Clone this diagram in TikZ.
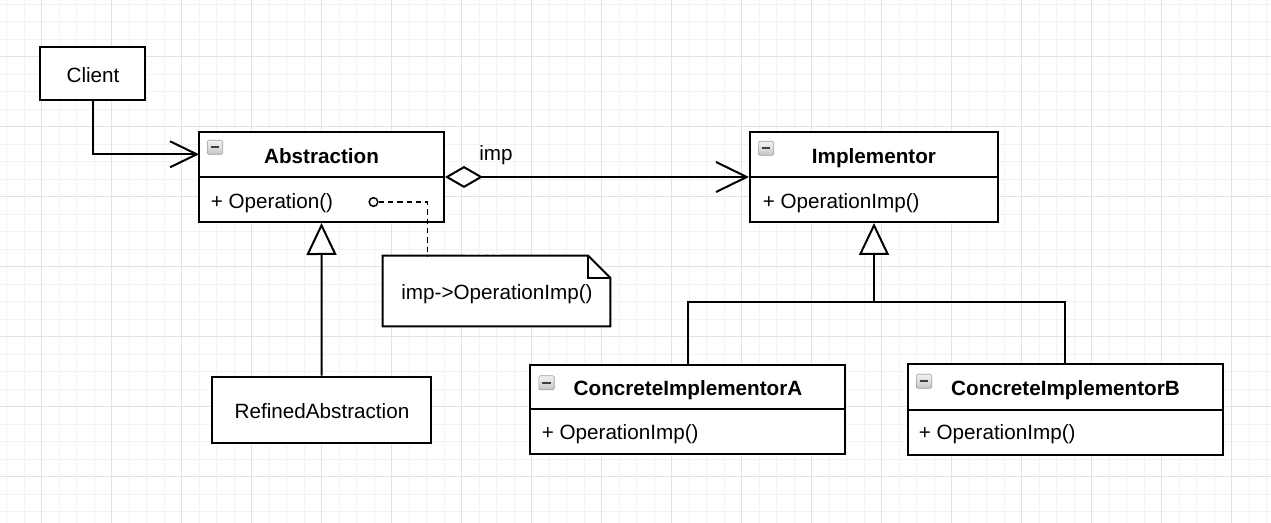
\documentclass[tikz,border=0pt]{standalone}
\usepackage{fontspec}
\setmainfont{Liberation Sans}
\usetikzlibrary{fit,arrows.meta}
\definecolor{gridminor}{HTML}{F3F3F3}
\definecolor{gridmajor}{HTML}{E2E2E2}
\tikzset{
  lw/.style={line width=1.5pt},
  box/.style={draw, lw, fill=white, inner sep=0pt},
  ttl/.style={font=\fontsize{15.5}{18}\selectfont\bfseries, inner sep=0pt, anchor=base},
  txt/.style={font=\fontsize{15.5}{18}\selectfont, inner sep=0pt, anchor=base},
  optxt/.style={font=\fontsize{15.5}{18}\selectfont, inner sep=0pt, anchor=base west},
  icon/.style={draw=gray!75, line width=0.5pt, rounded corners=1pt, minimum width=11.5pt, minimum height=10.5pt,
    inner sep=0pt, anchor=north west, top color=gray!10, bottom color=gray!45,
    path picture={\draw[line width=1.3pt, black!75] ([xshift=-3.2pt]path picture bounding box.center) -- ([xshift=3.2pt]path picture bounding box.center);}},
  barb/.style={-{Straight Barb[length=20pt,width=19.5pt,line width=1.5pt]}},
  inherit/.style={{Triangle[open,fill=white,length=24pt,width=22.5pt,line width=1.5pt]}-},
  aggrbarb/.style={{Diamond[open,fill=white,length=28.5pt,width=16.5pt,line width=1.5pt]}-{Straight Barb[length=23pt,width=22.5pt,line width=1.5pt]}},
  notedash/.style={line width=1.1pt, dash pattern=on 4pt off 3pt},
}
\begin{document}
\begin{tikzpicture}[x=0.75pt,y=-0.75pt]
\useasboundingbox (0,0) rectangle (1271,523);
\fill[white] (0,0) rectangle (1271,523);
% grid
\foreach \i in {0,...,72} \draw[gridminor, line width=0.6pt] ({6.7+17.5*\i},0) -- ({6.7+17.5*\i},523);
\foreach \j in {0,...,29} \draw[gridminor, line width=0.6pt] (0,{4.2+17.5*\j}) -- (1271,{4.2+17.5*\j});
\foreach \i in {0,...,17} \draw[gridmajor, line width=0.75pt] ({41.7+70*\i},0) -- ({41.7+70*\i},523);
\foreach \j in {0,...,6} \draw[gridmajor, line width=0.75pt] (0,{56.7+70*\j}) -- (1271,{56.7+70*\j});

% Client
\node[box, fit={(40,47.5) (145,100)}] (client) {};
\node[txt] (clienttxt) at (93,82.3) {Client};

% Abstraction
\node[box, fit={(199,132) (444,222)}] (abs) {};
\draw[lw] (199,177) -- (444,177);
\node[icon] (absicon) at (207,140) {};
\node[ttl] (abstitle) at (321.5,163.3) {Abstraction};
\node[optxt] (absop) at (210.5,208.3) {+ Operation()};

% Implementor
\node[box, fit={(750,132) (998,222)}] (impl) {};
\draw[lw] (750,177) -- (998,177);
\node[icon] (implicon) at (758,141) {};
\node[ttl] (impltitle) at (874,163.3) {Implementor};
\node[optxt] (implop) at (762.5,208.3) {+ OperationImp()};

% ConcreteImplementorA
\node[box, fit={(530,365) (845,454.5)}] (cia) {};
\draw[lw] (530,409.5) -- (845,409.5);
\node[icon] (ciaicon) at (538.5,375.5) {};
\node[ttl] (ciatitle) at (688,395.7) {ConcreteImplementorA};
\node[optxt] (ciaop) at (541.5,440) {+ OperationImp()};

% ConcreteImplementorB
\node[box, fit={(907.5,364.5) (1223,455)}] (cib) {};
\draw[lw] (907.5,410) -- (1223,410);
\node[icon] (cibicon) at (916,374) {};
\node[ttl] (cibtitle) at (1065.5,395.7) {ConcreteImplementorB};
\node[optxt] (cibop) at (918.5,440) {+ OperationImp()};

% RefinedAbstraction
\node[box, fit={(212.3,376.7) (431,443.3)}] (ref) {};
\node[txt] (reftxt) at (322,418.3) {RefinedAbstraction};

% Note
\node[inner sep=0pt, fit={(383,256) (610,326)}] (note) {};
\draw[lw, fill=white] (note.north west) -- ([xshift=-16.5pt]note.north east) -- ([yshift=-16.5pt]note.north east)
  -- (note.south east) -- (note.south west) -- cycle;
\draw[lw] ([xshift=-16.5pt]note.north east) -- ++(0,-16.5pt) -- ([yshift=-16.5pt]note.north east);
\node[txt] (notetxt) at (497,299.3) {imp->OperationImp()};
\draw[gray!45, line width=1pt, dash pattern=on 3.5pt off 2.2pt] (465,254.5) -- (502,254.5);

% note connector
\node[circle, draw, line width=1.1pt, fill=white, minimum size=6.5pt, inner sep=0pt] (dot) at (373.5,202) {};
\coordinate (notein) at (427.3,256);
\draw[notedash] (dot.east) -| (notein);

% connectors
\coordinate (absin) at (199,154.3);
\draw[lw, barb] (client.south) |- (absin);
\draw[lw, aggrbarb] (abs.east) -- (impl.west);
\node[txt] (implbl) at (496,160.7) {imp};
\draw[lw, inherit] (abs.south) -- (ref.north);
\coordinate (join) at (874,302);
\draw[lw, inherit] (impl.south) -- (join);
\draw[lw] (cia.north) |- (join) -| (cib.north);
\end{tikzpicture}
\end{document}
